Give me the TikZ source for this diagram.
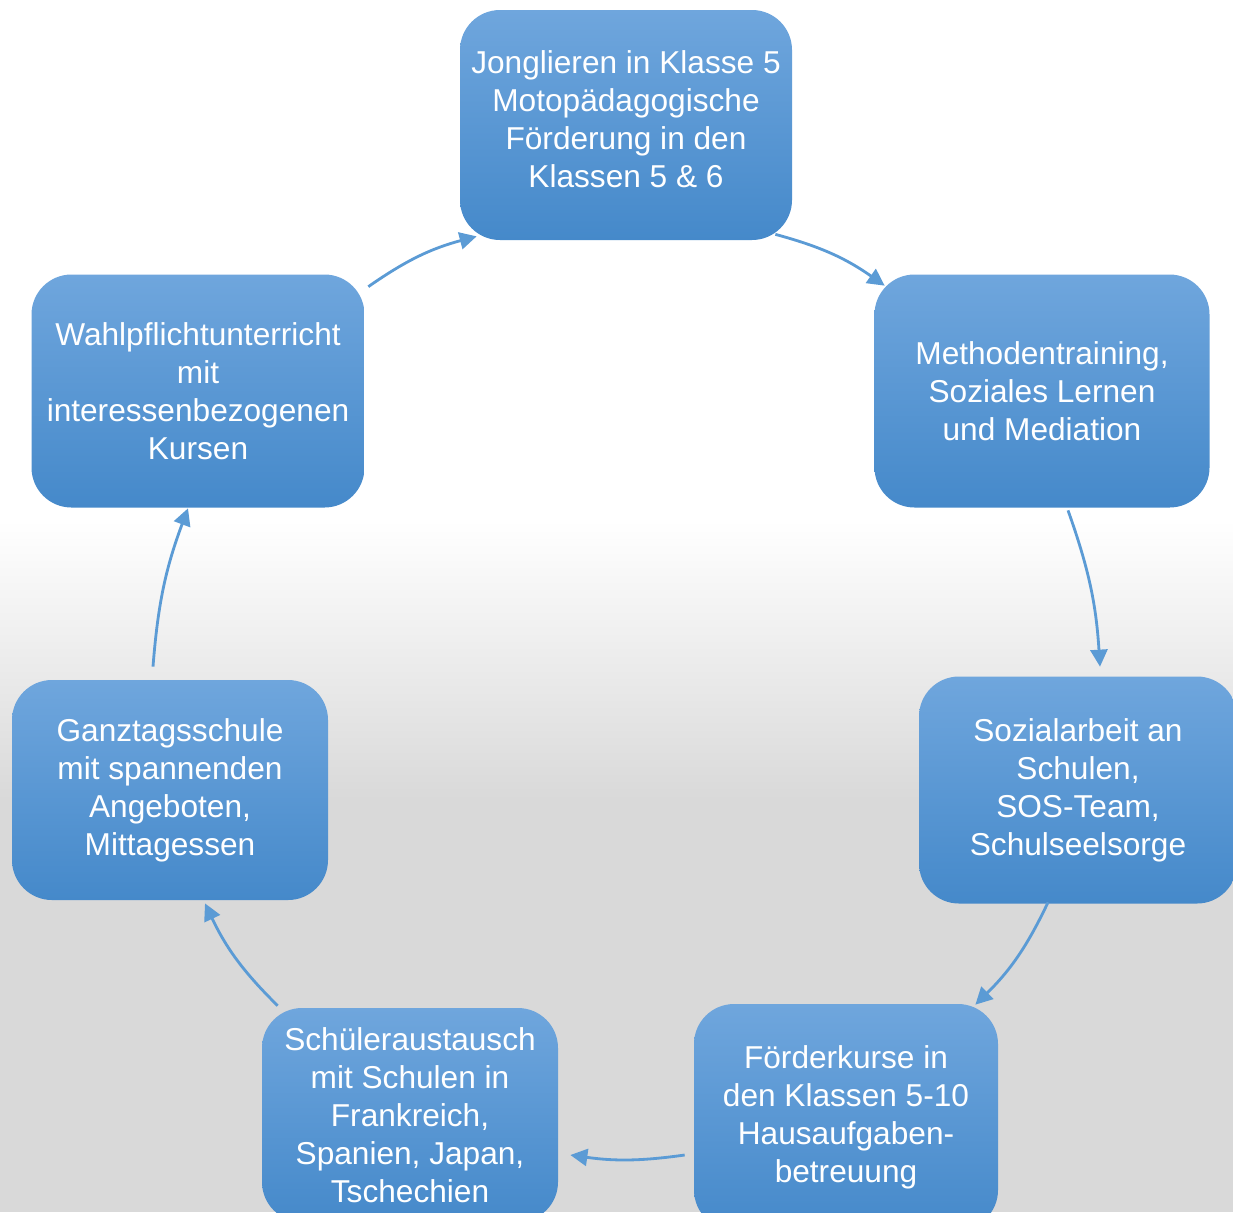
\documentclass[tikz,border=0pt]{standalone}
\usepackage{fontspec}
\setmainfont{Liberation Sans}
\usepackage{xcolor}
\usepackage{tikz}
\usetikzlibrary{positioning,arrows.meta}

\definecolor{boxtop}{HTML}{6FA6DD}
\definecolor{boxbottom}{HTML}{4589CA}
\definecolor{arrowblue}{HTML}{5B9BD5}
\definecolor{bggray}{HTML}{D9D9D9}

\begin{document}
\begin{tikzpicture}[node distance=2cm, auto]
    % Define styles
    \tikzstyle{station} = [rectangle, rounded corners=0.8cm, top color=boxtop, bottom color=boxbottom, text=white, align=center, inner sep=2pt, font=\fontsize{18}{21.6}\selectfont, minimum width=6.6cm, minimum height=4.6cm]
    \tikzstyle{flow} = [draw=arrowblue, line width=1.6pt, -{Triangle[length=0.34cm, width=0.34cm]}]

    % Background
    \useasboundingbox (0,0) rectangle (24.66,-24.24);
    \clip (0,0) rectangle (24.66,-24.24);
    \fill[white] (0,0) rectangle (24.66,-10.4);
    \shade[top color=white, bottom color=bggray] (0,-10.4) rectangle (24.66,-16);
    \fill[bggray] (0,-16) rectangle (24.66,-24.24);

    % Stations
    \node [station, minimum width=6.64cm, text depth=0.24cm] at (12.52,-2.5) (jong) {Jonglieren in Klasse 5\\Motopädagogische\\Förderung in den\\Klassen 5 \& 6};
    \node [station, minimum width=6.7cm, minimum height=4.66cm, right of=jong, xshift=6.32cm, yshift=-5.32cm] (meth) {Methodentraining,\\Soziales Lernen\\und Mediation};
    \node [station, minimum width=6.36cm, minimum height=4.54cm, below of=meth, xshift=0.72cm, yshift=-5.98cm] (sozi) {Sozialarbeit an\\Schulen,\\SOS-Team,\\Schulseelsorge};
    \node [station, minimum width=6.08cm, minimum height=4.52cm, below of=sozi, xshift=-4.64cm, yshift=-4.54cm] (foerd) {Förderkurse in\\den Klassen 5-10\\Hausaufgaben-\\betreuung};
    \node [station, minimum width=5.92cm, minimum height=4.28cm, left of=foerd, xshift=-6.72cm, yshift=0.04cm] (schue) {Schüleraustausch\\mit Schulen in\\Frankreich,\\Spanien, Japan,\\Tschechien};
    \node [station, minimum width=6.32cm, minimum height=4.4cm, above of=schue, xshift=-4.8cm, yshift=4.5cm] (ganz) {Ganztagsschule\\mit spannenden\\Angeboten,\\Mittagessen};
    \node [station, minimum width=6.66cm, minimum height=4.66cm, above of=ganz, xshift=0.56cm, yshift=5.98cm] (wahl) {Wahlpflichtunterricht\\mit\\interessenbezogenen\\Kursen};

    % Arrows
    \draw [flow] ([shift={(0.07cm,-0.25cm)}]wahl.north east) to[bend left=10] ([shift={(0.34cm,0.08cm)}]jong.south west);
    \draw [flow] ([shift={(-0.34cm,0.12cm)}]jong.south east) to[bend left=10] ([shift={(0.21cm,-0.23cm)}]meth.north west);
    \draw [flow] ([shift={(0.52cm,-0.05cm)}]meth.south) to[bend left=8] ([shift={(0.44cm,0.19cm)}]sozi.north);
    \draw [flow] ([shift={(-0.6cm,0.03cm)}]sozi.south) to[bend left=10] ([shift={(-0.46cm,-0.02cm)}]foerd.north east);
    \draw [flow] ([shift={(-0.18cm,-0.76cm)}]foerd.west) to[bend left=8] ([shift={(0.24cm,-0.8cm)}]schue.east);
    \draw [flow] ([shift={(0.32cm,0.04cm)}]schue.north west) to[bend left=10] ([shift={(0.7cm,-0.06cm)}]ganz.south);
    \draw [flow] ([shift={(-0.34cm,0.26cm)}]ganz.north) to[bend left=8] ([shift={(-0.2cm,-0.01cm)}]wahl.south);
\end{tikzpicture}
\end{document}
